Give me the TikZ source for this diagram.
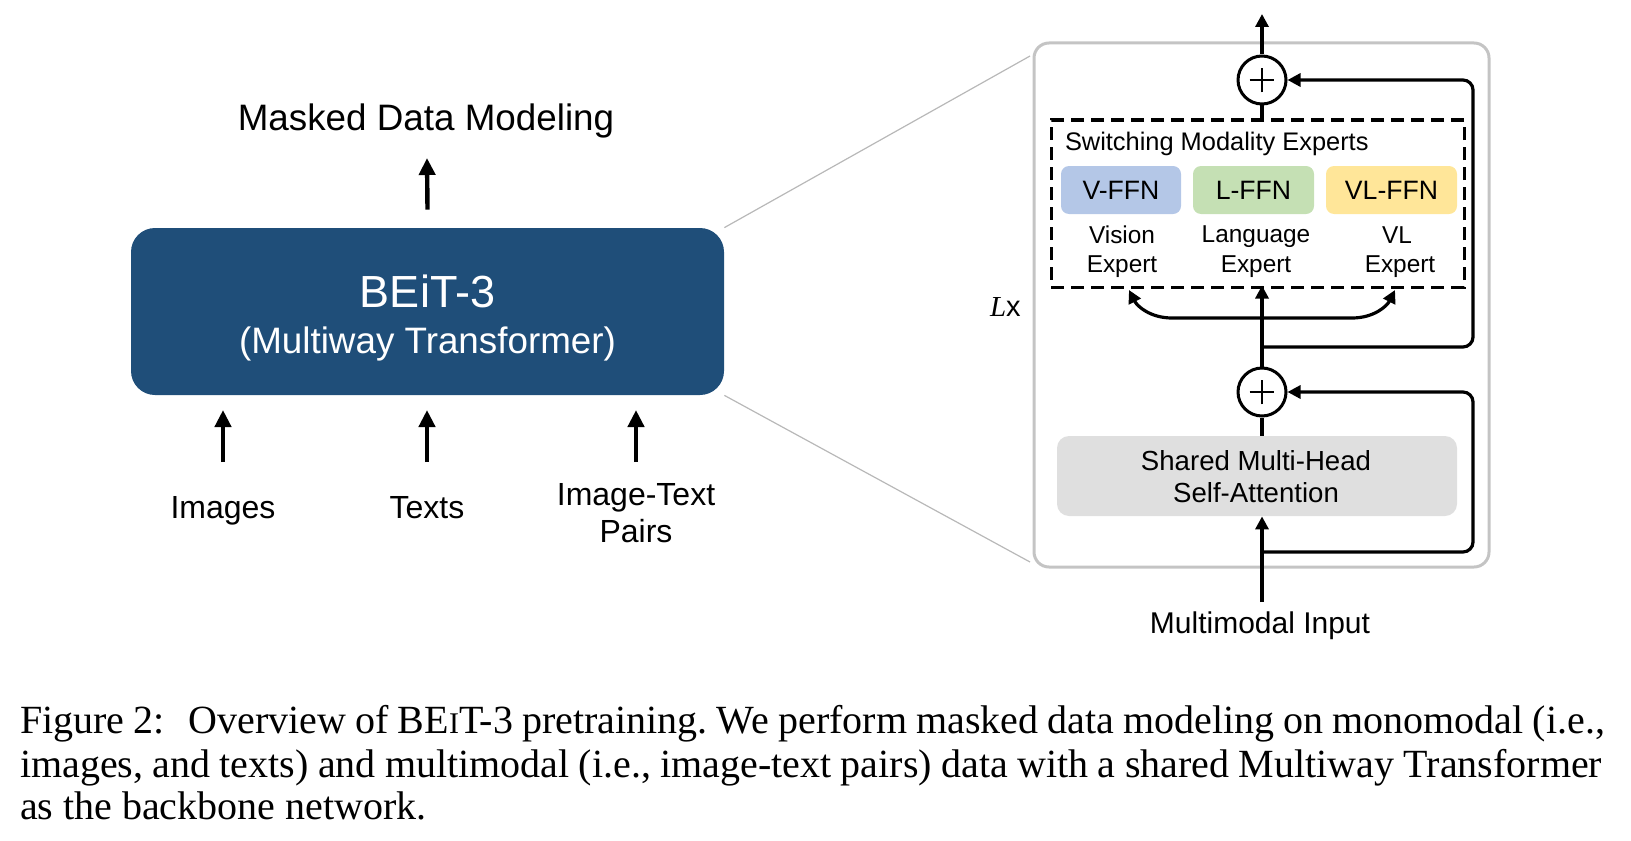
\documentclass[tikz,border=0pt]{standalone}
\usepackage{fontspec}
\setmainfont{Liberation Serif}
\newfontfamily\arial{Liberation Sans}
\usetikzlibrary{arrows.meta}
\definecolor{beitblue}{HTML}{1F4E79}
\definecolor{vblue}{HTML}{B4C7E7}
\definecolor{lgreen}{HTML}{C5E0B4}
\definecolor{vlyellow}{HTML}{FFE699}
\definecolor{attngray}{HTML}{DFDFDF}
\definecolor{framegray}{HTML}{C4C4C4}
\definecolor{projgray}{HTML}{B8B8B8}
\begin{document}
\begin{tikzpicture}[x=0.5pt,y=-0.5pt,
  fsz/.style={font=\arial\fontsize{#1}{#1}\selectfont},
  txt/.style={anchor=base, inner sep=0pt, outer sep=0pt},
  bigarrow/.style={line width=2.2pt,-{Triangle[length=8.5pt,width=8pt]}},
  flow/.style={line width=1.6pt},
  flowarrow/.style={flow,-{Triangle[length=6.5pt,width=6.5pt]}},
  ffn/.style={rounded corners=4pt, minimum height=24pt, inner sep=0pt, fsz=13.3},
  addop/.style={circle, draw, line width=1.5pt, minimum size=24pt, inner sep=0pt},
  plusbar/.style={line width=1.3pt},
  proj/.style={draw=projgray, line width=0.6pt},
]
\useasboundingbox (0,0) rectangle (1631,840);

% ---------------- left part ----------------
\node[fill=beitblue, rounded corners=12pt, minimum width=296.5pt, minimum height=83.5pt, inner sep=0pt] (beit) at (427.5,311.5) {};
\node[txt, fsz=22.5, text=white] (beitname) at (427.5,307) {BEiT-3};
\node[txt, fsz=18.4, text=white] (beitsub) at (427.5,353) {(Multiway Transformer)};
\node[txt, fsz=18.4] (mdm) at (426,130) {Masked Data Modeling};
\coordinate (mdmtip) at (427,158);
\draw[bigarrow] ([yshift=9pt]beit.north) -- (mdmtip);

\node[txt, fsz=16] (img) at (223,518) {Images};
\node[txt, fsz=16] (txts) at (427,518) {Texts};
\node[txt, fsz=16] (pair1) at (636,505) {Image-Text};
\node[txt, fsz=16] (pair2) at (636,542) {Pairs};
\coordinate (imgtail) at (223,462);
\coordinate (imgtip) at (223,410);
\coordinate (txttail) at (427,462);
\coordinate (txttip) at (427,410);
\coordinate (pairtail) at (636,462);
\coordinate (pairtip) at (636,410);
\draw[bigarrow] (imgtail) -- (imgtip);
\draw[bigarrow] (txttail) -- (txttip);
\draw[bigarrow] (pairtail) -- (pairtip);

% ---------------- right part ----------------
\node[draw=framegray, line width=1.5pt, rounded corners=7.5pt, minimum width=227.5pt, minimum height=262pt, inner sep=0pt] (frame) at (1261.5,305) {};
\coordinate (projtop) at (1030,56);
\coordinate (projbot) at (1030,562);
\draw[proj] (beit.north east) -- (projtop);
\draw[proj] (beit.south east) -- (projbot);

\node[draw, line width=1.5pt, dash pattern=on 6.5pt off 3.5pt, minimum width=206.5pt, minimum height=83.5pt, inner sep=0pt] (sme) at (1257.5,203.5) {};
\node[txt, fsz=12.7, anchor=base west] (smet) at (1065,150) {Switching Modality Experts};

\node[ffn, fill=vblue, minimum width=60pt] (vffn) at (1121,190) {V-FFN};
\node[ffn, fill=lgreen, minimum width=60.5pt] (lffn) at (1253.5,190) {L-FFN};
\node[ffn, fill=vlyellow, minimum width=65.5pt] (vlffn) at (1391.5,190) {VL-FFN};

\node[txt, fsz=12.2] (ve1) at (1122,243) {Vision};
\node[txt, fsz=12.2] (ve2) at (1122,272) {Expert};
\node[txt, fsz=12.2] (le1) at (1256,242) {Language};
\node[txt, fsz=12.2] (le2) at (1256,272) {Expert};
\node[txt, fsz=12.2] (vle1) at (1397,243) {VL};
\node[txt, fsz=12.2] (vle2) at (1400,272) {Expert};

\node[addop] (add1) at (1262,80) {};
\node[addop] (add2) at (1262,392) {};
\draw[plusbar] ([xshift=-6.2pt]add1.center) -- ([xshift=6.2pt]add1.center);
\draw[plusbar] ([yshift=-6.2pt]add1.center) -- ([yshift=6.2pt]add1.center);
\draw[plusbar] ([xshift=-6.2pt]add2.center) -- ([xshift=6.2pt]add2.center);
\draw[plusbar] ([yshift=-6.2pt]add2.center) -- ([yshift=6.2pt]add2.center);

\coordinate (outtop) at (1262,14);
\draw[flowarrow] (add1.north) -- (outtop);
\draw[flow] (add1.south) -- (add1.south |- sme.north);

\coordinate (res1) at (1262,347);
\draw[flowarrow, rounded corners=5pt] (res1) -- (1473,347) -- (1473,80) -- (add1.east);

\draw[flowarrow, shorten >=-1.5pt] (add2.north) -- (add2.north |- sme.south);
\coordinate (fork) at (1262,318);
\coordinate (tov) at (1129,290);
\coordinate (tovl) at (1395,290);
\draw[flowarrow] (fork) -- (1172,318) .. controls (1150,318) and (1137,306) .. (tov);
\draw[flowarrow] (fork) -- (1352,318) .. controls (1374,318) and (1387,306) .. (tovl);

\node[fill=attngray, rounded corners=6pt, minimum width=200pt, minimum height=40pt, inner sep=0pt] (attn) at (1257,476) {};
\node[txt, fsz=13.8] (attn1) at (1256,470) {Shared Multi-Head};
\node[txt, fsz=13.8] (attn2) at (1256,502) {Self-Attention};
\draw[flow] (add2.south) -- (add2.south |- attn.north);

\node[txt, fsz=15] (inp) at (1260,633) {Multimodal Input};
\coordinate (inbot) at (1262,602);
\draw[flowarrow] (inbot) -- (inbot |- attn.south);
\coordinate (res2) at (1262,552);
\draw[flowarrow, rounded corners=5pt] (res2) -- (1473,552) -- (1473,392) -- (add2.east);

\node[txt, anchor=base west] (lx) at (990,316) {\fontsize{14.5}{14.5}\selectfont\itshape L\upshape\arial x};

% ---------------- caption ----------------
\node[txt, anchor=base west, font=\fontsize{20}{24}\selectfont] (cap1) at (20,733) {\frenchspacing\hbox to 792.5pt{Figure 2:\hskip 0.6em Overview of BE{\fontsize{15}{15}\selectfont I}T-3 pretraining. We perform masked data modeling on monomodal (i.e.,}};
\node[txt, anchor=base west, font=\fontsize{20}{24}\selectfont] (cap2) at (20,777) {\frenchspacing\hbox to 791pt{images, and texts) and multimodal (i.e., image-text pairs) data with a shared Multiway Transformer}};
\node[txt, anchor=base west, font=\fontsize{20}{24}\selectfont] (cap3) at (20,819) {as the backbone network.};
\end{tikzpicture}
\end{document}
